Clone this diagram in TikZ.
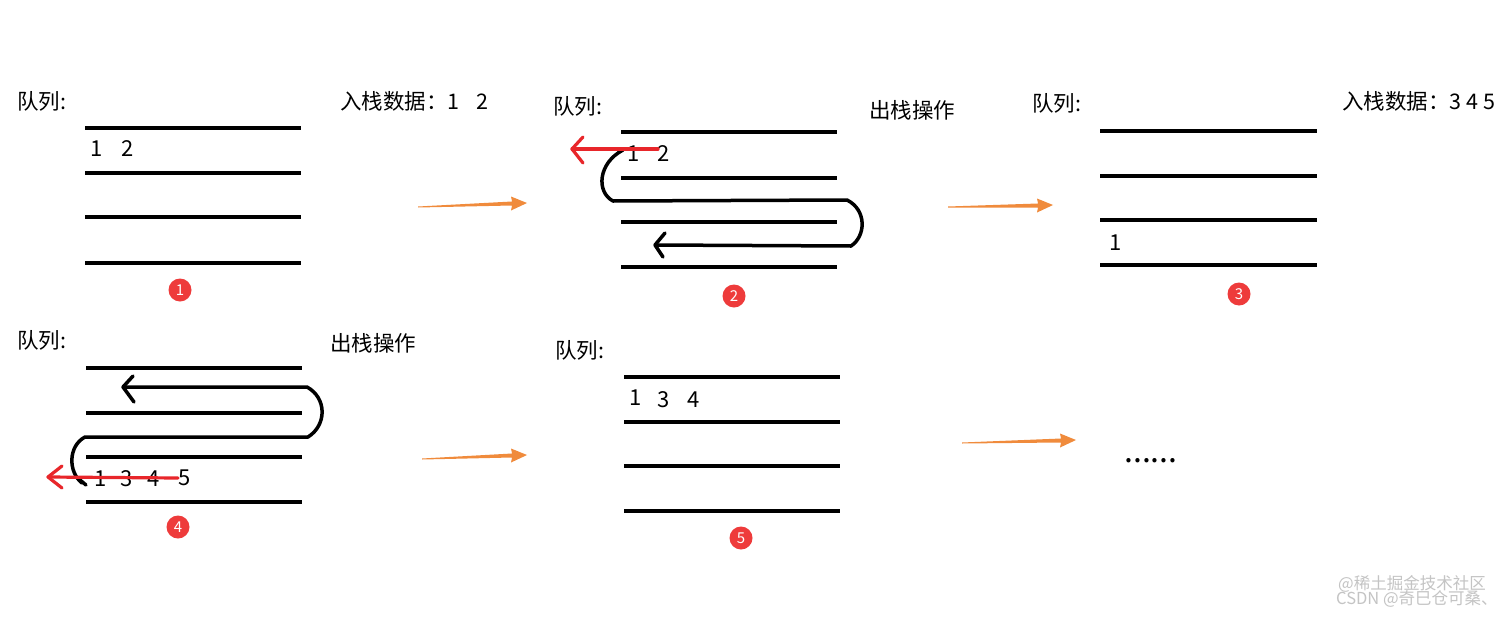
\documentclass[tikz,border=0pt]{standalone}
\usepackage{fontspec}
\setmainfont{Noto Sans CJK SC}
\definecolor{qred}{HTML}{E8262A}
\definecolor{qorange}{HTML}{F08B3C}
\definecolor{badgered}{HTML}{EE3B3B}
\definecolor{wmgray}{HTML}{C4C4C4}
\newcommand\taperarrow[4]{%
  \fill[qorange] (#1,{#2-0.5}) -- ({#3-15},{#4+0.5-2}) -- ({#3-16},{#4+0.5-7}) -- (#3,#4)
   -- ({#3-16},{#4+0.5+7}) -- ({#3-15},{#4+0.5+2}) -- (#1,{#2+0.5}) -- cycle;}
\newcommand\shelves[6]{%
  \foreach \yy in {#3,#4,#5,#6} \draw[shelf] (#1,\yy) -- (#2,\yy);}
\tikzset{
  shelf/.style={line width=4pt},
  lbl/.style={anchor=west, inner sep=0pt, font=\fontsize{21.5}{25}\selectfont},
  dig/.style={inner sep=0pt, font=\fontsize{22}{25}\selectfont},
  badge/.style={circle, fill=badgered, minimum size=23pt, inner sep=0pt, text=white,
    font=\fontsize{15}{16}\selectfont},
  route/.style={line width=3.5pt, line cap=round, line join=round},
  popline/.style={qred, line width=3.2pt, line cap=round, line join=round},
  wm/.style={anchor=west, inner sep=0pt, text=wmgray, font=\fontsize{16.5}{18}\selectfont},
}
\begin{document}
\begin{tikzpicture}[x=1pt,y=-1pt]
\fill[white] (0,0) rectangle (1512,616);
\useasboundingbox (0,0) rectangle (1512,616);

% ---------- panel 1
\node[lbl] (q1) at (17,101) {队列:};
\node[lbl] (in1) at (340,101) {入栈数据：1\hspace{0.8em}2};
\shelves{85}{301}{128}{173}{217}{263}
\node[dig] (p1a) at (97,149) {1};
\node[dig] (p1b) at (128,149) {2};
\node[badge] (b1) at (180,290) {1};

\taperarrow{418}{207}{527}{203}

% ---------- panel 2
\node[lbl] (q2) at (553,106) {队列:};
\node[lbl] (op2) at (869,110) {出栈操作};
\shelves{621}{837}{132}{178}{222}{267}
\node[dig] (p2a) at (634,154) {1};
\node[dig] (p2b) at (664,154) {2};
\draw[route] (623,150) .. controls (598,163) and (596,192) .. (613,201) -- (847,200)
  .. controls (867,210) and (866,236) .. (851,246) -- (655,245);
\draw[route] (665,233) -- (655,245) -- (663,257);
\draw[popline] (658,149) -- (572,149);
\draw[popline] (583,137) -- (572,149) -- (583,163);
\node[badge] (b2) at (734,296) {2};

\taperarrow{948}{207}{1053}{205}

% ---------- panel 3
\node[lbl] (q3) at (1032,103) {队列:};
\node[lbl] (in3) at (1342,101) {入栈数据：3 4 5};
\shelves{1100}{1317}{131}{176}{220}{265}
\node[dig] (p3a) at (1116,243) {1};
\node[badge] (b3) at (1239,294) {3};

% ---------- panel 4
\node[lbl] (q4) at (17,340) {队列:};
\node[lbl] (op4) at (330,343) {出栈操作};
\shelves{86}{302}{368}{413}{457}{502}
\node[dig] (p4a) at (101,479) {1};
\node[dig] (p4b) at (127,479) {3};
\node[dig] (p4c) at (154,479) {4};
\node[dig] (p4d) at (185,478) {5};
\draw[route] (123,387) -- (307,387) .. controls (327,398) and (327,425) .. (308,437)
  -- (85,437) .. controls (68,446) and (68,472) .. (82,483);
\draw[route] (80,480) -- (86,485);
\draw[route] (133,376) -- (123,387) -- (134,402);
\draw[popline] (178,478) -- (48,477);
\draw[popline] (62,466) -- (48,477) -- (62,488);
\node[badge] (b4) at (178,527) {4};

\taperarrow{422}{459}{527}{455}

% ---------- panel 5
\node[lbl] (q5) at (555,350) {队列:};
\shelves{624}{840}{377}{422}{466}{511}
\node[dig] (p5a) at (636,398) {1};
\node[dig] (p5b) at (664,400) {3};
\node[dig] (p5c) at (694,400) {4};
\node[badge] (b5) at (741,538) {5};

\taperarrow{962}{443}{1076}{440}

\node[anchor=base west, inner sep=0pt, font=\fontsize{32}{34}\selectfont] (dots) at (1124,462) {......};

% ---------- watermark
\node[wm] (wm1) at (1338,584) {@稀土掘金技术社区};
\node[wm] (wm2) at (1336,599) {CSDN @奇巳仓可桑、};
\end{tikzpicture}
\end{document}
